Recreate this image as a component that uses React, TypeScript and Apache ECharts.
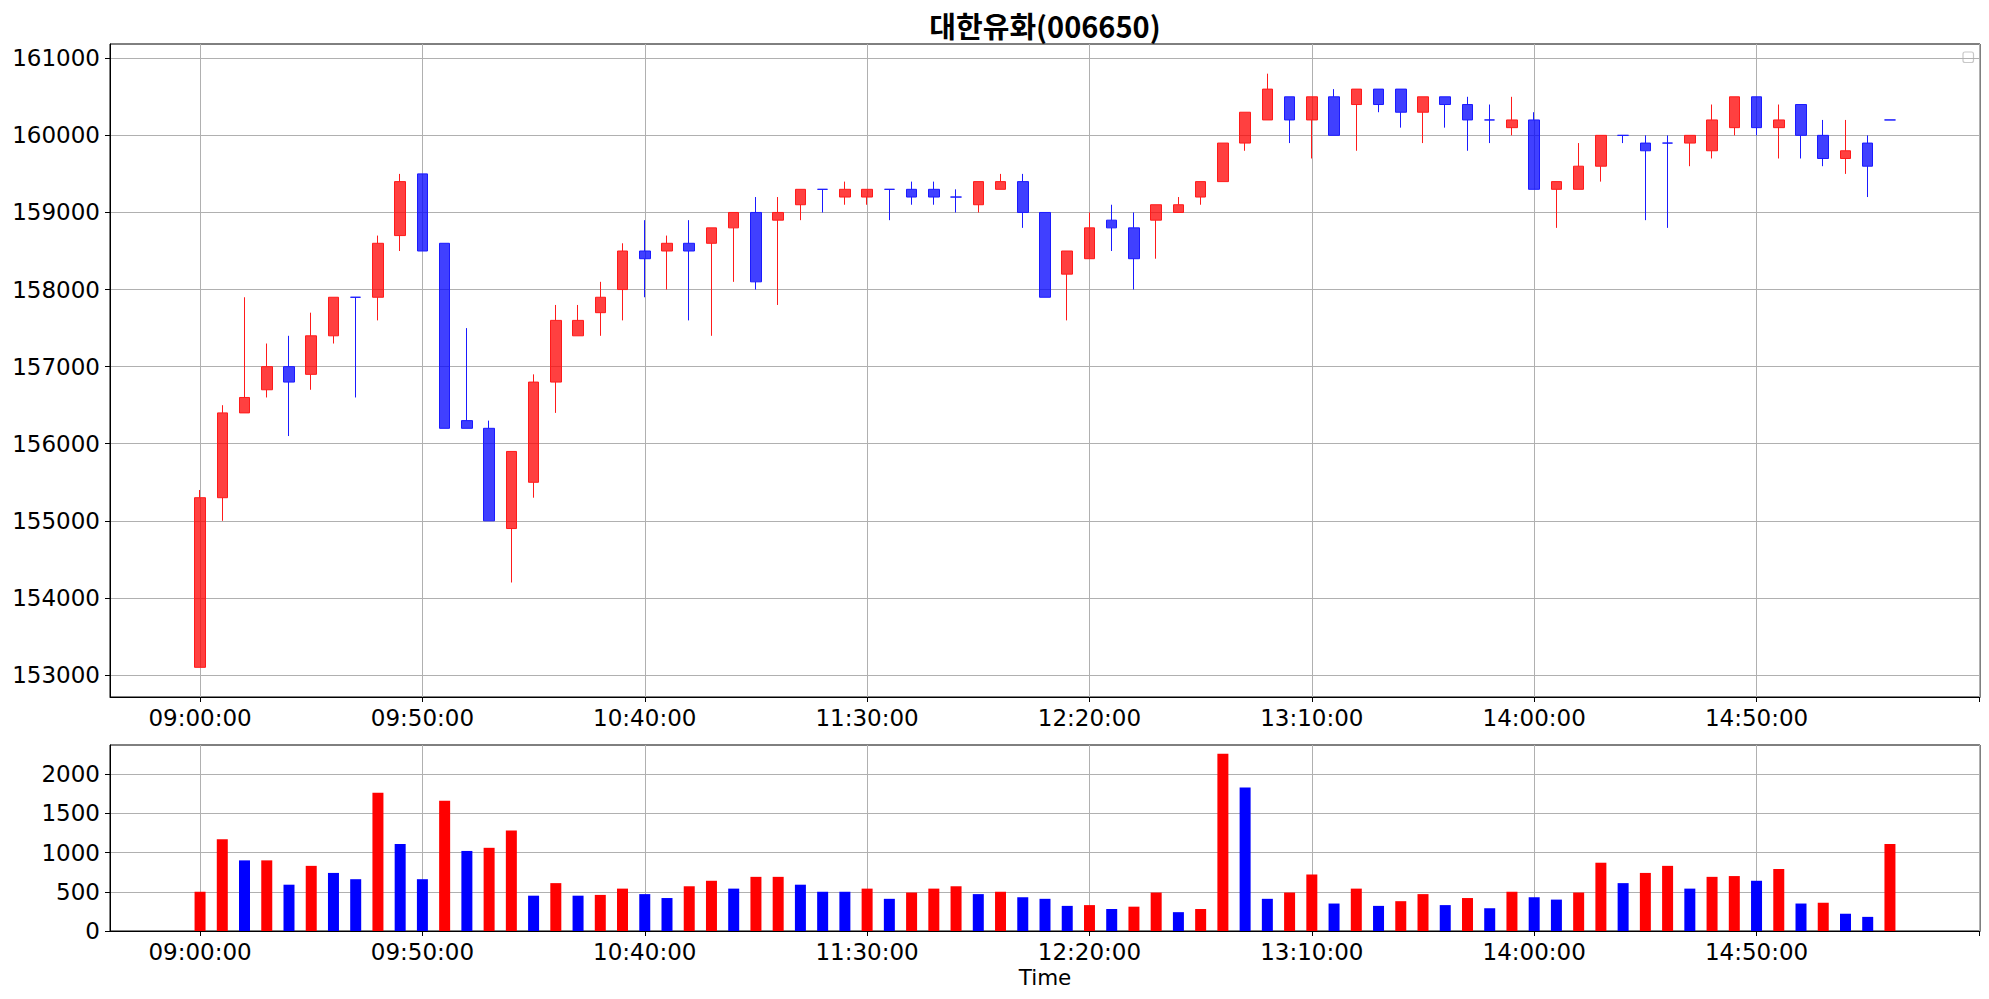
import React, { useEffect, useRef } from 'react';
import * as echarts from 'echarts';

const chartTitle = '대한유화(006650)';

const times = [
  '09:00:00', '09:05:00', '09:10:00', '09:15:00', '09:20:00', '09:25:00', '09:30:00', '09:35:00', '09:40:00', '09:45:00',
  '09:50:00', '09:55:00', '10:00:00', '10:05:00', '10:10:00', '10:15:00', '10:20:00', '10:25:00', '10:30:00', '10:35:00',
  '10:40:00', '10:45:00', '10:50:00', '10:55:00', '11:00:00', '11:05:00', '11:10:00', '11:15:00', '11:20:00', '11:25:00',
  '11:30:00', '11:35:00', '11:40:00', '11:45:00', '11:50:00', '11:55:00', '12:00:00', '12:05:00', '12:10:00', '12:15:00',
  '12:20:00', '12:25:00', '12:30:00', '12:35:00', '12:40:00', '12:45:00', '12:50:00', '12:55:00', '13:00:00', '13:05:00',
  '13:10:00', '13:15:00', '13:20:00', '13:25:00', '13:30:00', '13:35:00', '13:40:00', '13:45:00', '13:50:00', '13:55:00',
  '14:00:00', '14:05:00', '14:10:00', '14:15:00', '14:20:00', '14:25:00', '14:30:00', '14:35:00', '14:40:00', '14:45:00',
  '14:50:00', '14:55:00', '15:00:00', '15:05:00', '15:10:00', '15:15:00', '15:20:00',
];

const opens = [
  153100, 155300, 156400, 156700, 157000, 156900, 157400, 157900, 157900, 158700,
  159500, 158600, 156300, 156200, 154900, 155500, 156800, 157400, 157700, 158000,
  158500, 158500, 158600, 158600, 158800, 159000, 158900, 159100, 159300, 159200,
  159200, 159300, 159300, 159300, 159200, 159100, 159300, 159400, 159000, 158200,
  158400, 158900, 158800, 158900, 159000, 159200, 159400, 159900, 160200, 160500,
  160200, 160500, 160400, 160600, 160600, 160300, 160500, 160400, 160200, 160100,
  160200, 159300, 159300, 159600, 160000, 159900, 159900, 159900, 159800, 160100,
  160500, 160100, 160400, 160000, 159700, 159900, 160200,
];

const closes = [
  155300, 156400, 156600, 157000, 156800, 157400, 157900, 157900, 158600, 159400,
  158500, 156200, 156200, 155000, 155900, 156800, 157600, 157600, 157900, 158500,
  158400, 158600, 158500, 158800, 159000, 158100, 159000, 159300, 159300, 159300,
  159300, 159300, 159200, 159200, 159200, 159400, 159400, 159000, 157900, 158500,
  158800, 158800, 158400, 159100, 159100, 159400, 159900, 160300, 160600, 160200,
  160500, 160000, 160600, 160400, 160300, 160500, 160400, 160200, 160200, 160200,
  159300, 159400, 159600, 160000, 160000, 159800, 159900, 160000, 160200, 160500,
  160100, 160200, 160000, 159700, 159800, 159600, 160200,
];

const highs = [
  155400, 156500, 157900, 157300, 157400, 157700, 157900, 157900, 158700, 159500,
  159500, 158600, 157500, 156300, 155900, 156900, 157800, 157800, 158100, 158600,
  158900, 158700, 158900, 158800, 159000, 159200, 159200, 159300, 159300, 159400,
  159300, 159300, 159400, 159400, 159300, 159400, 159500, 159500, 159000, 158500,
  159000, 159100, 159000, 159100, 159200, 159400, 159900, 160300, 160800, 160500,
  160500, 160600, 160600, 160600, 160600, 160500, 160500, 160500, 160400, 160500,
  160300, 159400, 159900, 160000, 160000, 160000, 160000, 160000, 160400, 160500,
  160500, 160400, 160400, 160200, 160200, 160000, 160200,
];

const lows = [
  153100, 155000, 156400, 156600, 156100, 156700, 157300, 156600, 157600, 158500,
  158500, 156200, 156200, 155000, 154200, 155300, 156400, 157400, 157400, 157600,
  157900, 158000, 157600, 157400, 158100, 158000, 157800, 158900, 159000, 159100,
  159100, 158900, 159100, 159100, 159000, 159000, 159300, 158800, 157900, 157600,
  158400, 158500, 158000, 158400, 159000, 159100, 159400, 159800, 160200, 159900,
  159700, 160000, 159800, 160300, 160100, 159900, 160100, 159800, 159900, 160000,
  159300, 158800, 159300, 159400, 159900, 158900, 158800, 159600, 159700, 160000,
  160000, 159700, 159700, 159600, 159500, 159200, 160200,
];

const volumes = [
  500, 1170, 900, 900, 590, 830, 740, 660, 1760, 1110,
  660, 1660, 1020, 1060, 1280, 450, 610, 450, 460, 540,
  470, 420, 570, 640, 540, 690, 690, 590, 500, 500,
  540, 410, 490, 540, 570, 470, 500, 430, 410, 320,
  330, 280, 310, 490, 240, 280, 2260, 1830, 410, 490,
  720, 350, 540, 320, 380, 470, 330, 420, 290, 500,
  430, 400, 490, 870, 610, 740, 830, 540, 690, 700,
  640, 790, 350, 360, 220, 180, 1110,
];

const volumeDirs = [
  'up', 'up', 'down', 'up', 'down', 'up', 'down', 'down', 'up', 'down',
  'down', 'up', 'down', 'up', 'up', 'down', 'up', 'down', 'up', 'up',
  'down', 'down', 'up', 'up', 'down', 'up', 'up', 'down', 'down', 'down',
  'up', 'down', 'up', 'up', 'up', 'down', 'up', 'down', 'down', 'down',
  'up', 'down', 'up', 'up', 'down', 'up', 'up', 'down', 'down', 'up',
  'up', 'down', 'up', 'down', 'up', 'up', 'down', 'up', 'down', 'up',
  'down', 'down', 'up', 'up', 'down', 'up', 'up', 'down', 'up', 'up',
  'down', 'up', 'down', 'up', 'down', 'down', 'up',
];

const xTickIndices = [0, 10, 20, 30, 40, 50, 60, 70, 80];
const xLabelIndices = [0, 10, 20, 30, 40, 50, 60, 70];
const priceTicks = [153000, 154000, 155000, 156000, 157000, 158000, 159000, 160000, 161000];
const volumeTicks = [0, 500, 1000, 1500, 2000];
const xAxisName = 'Time';

const FONT = '"DejaVu Sans", sans-serif';
const TICK_FONT_SIZE = 23;
const UP = 'rgba(255,0,0,0.75)';
const DOWN = 'rgba(0,0,255,0.75)';
const UP_LINE = '#ff1a1a';
const DOWN_LINE = '#1a1aff';
const GRID_COLOR = '#b0b0b0';

function makeXAxis(gridIndex: number, withName: boolean) {
  return {
    type: 'value',
    gridIndex,
    min: -4.05,
    max: 80.05,
    name: withName ? xAxisName : '',
    nameLocation: 'middle',
    nameGap: 35,
    nameTextStyle: { fontSize: 21.5, fontFamily: FONT, color: '#000' },
    axisLine: { show: true, onZero: false, lineStyle: { color: '#000', width: 1 } },
    axisTick: { show: true, customValues: xTickIndices, length: 5, lineStyle: { color: '#000', width: 1 } },
    axisLabel: {
      customValues: xLabelIndices,
      formatter: (v: number) => times[Math.round(v)] ?? '',
      fontSize: TICK_FONT_SIZE,
      fontFamily: FONT,
      color: '#000',
      margin: 9,
    },
    splitLine: { show: true, lineStyle: { color: GRID_COLOR, width: 1 } },
  };
}

function makeYAxis(gridIndex: number, min: number, max: number, ticks: number[]) {
  return {
    type: 'value',
    gridIndex,
    min,
    max,
    scale: true,
    axisLine: { show: true, onZero: false, lineStyle: { color: '#000', width: 1 } },
    axisTick: { show: true, customValues: ticks, length: 5, lineStyle: { color: '#000', width: 1 } },
    axisLabel: {
      customValues: ticks,
      formatter: (v: number) => String(Math.round(v)),
      fontSize: TICK_FONT_SIZE,
      fontFamily: FONT,
      color: '#000',
      margin: 10,
    },
    splitLine: { show: true, lineStyle: { color: GRID_COLOR, width: 1 } },
  };
}

export default function App() {
  const ref = useRef<HTMLDivElement>(null);

  useEffect(() => {
    if (!ref.current) return;
    const chart = echarts.init(ref.current, null, { renderer: 'svg' });

    const candleData = opens.map((o, i) => [i, o, closes[i], lows[i], highs[i]]);
    const volumeData = volumes.map((v, i) => ({
      value: [i, v],
      itemStyle: { color: volumeDirs[i] === 'up' ? '#ff0000' : '#0000ff' },
    }));

    chart.setOption({
      animation: false,
      backgroundColor: '#ffffff',
      grid: [
        { left: 110, top: 44, right: 9, height: 653, show: true, borderColor: '#000', borderWidth: 1, backgroundColor: 'transparent' },
        { left: 110, top: 745, right: 9, height: 186, show: true, borderColor: '#000', borderWidth: 1, backgroundColor: 'transparent' },
      ],
      xAxis: [makeXAxis(0, false), makeXAxis(1, true)],
      yAxis: [makeYAxis(0, 152715, 161185, priceTicks), makeYAxis(1, 0, 2370, volumeTicks)],
      series: [
        {
          type: 'candlestick',
          xAxisIndex: 0,
          yAxisIndex: 0,
          barWidth: 11,
          data: candleData,
          itemStyle: {
            color: UP,
            color0: DOWN,
            borderColor: UP_LINE,
            borderColor0: DOWN_LINE,
            borderColorDoji: DOWN_LINE,
            borderWidth: 1,
          },
        },
        {
          type: 'bar',
          xAxisIndex: 1,
          yAxisIndex: 1,
          barWidth: 11,
          data: volumeData,
        },
      ],
      graphic: [
        {
          type: 'text',
          x: 1045,
          y: 25,
          style: {
            text: chartTitle,
            fontSize: 29,
            fontWeight: 'bold',
            fontFamily: '"Noto Sans CJK KR", sans-serif',
            fill: '#000',
            align: 'center',
            verticalAlign: 'middle',
          },
        },
        {
          type: 'rect',
          shape: { x: 1963, y: 52, width: 10.5, height: 10.5, r: 2 },
          style: { fill: 'rgba(255,255,255,0.8)', stroke: '#c8c8c8', lineWidth: 1.2 },
        },
      ],
    });

    return () => chart.dispose();
  }, []);

  return (
    <div
      ref={ref}
      style={{ position: 'fixed', left: 0, top: 0, width: 1989, height: 999, background: '#fff' }}
    />
  );
}
